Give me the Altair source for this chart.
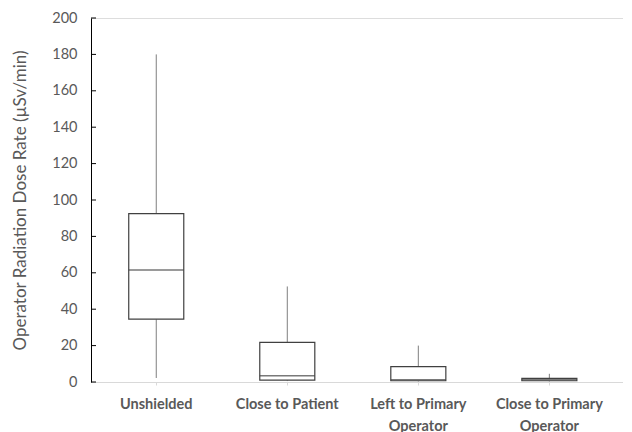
import altair as alt
import pandas as pd

categories = ["Unshielded", "Close to Patient", "Left to Primary Operator", "Close to Primary Operator"]
mins = [2.2, 0.5, 0.3, 0.3]
q1s = [34.5, 1.0, 0.7, 0.7]
medians = [61.5, 3.5, 1.2, 1.2]
q3s = [92.5, 21.8, 8.5, 2.0]
maxs = [180.0, 52.5, 20.0, 4.5]
y_ticks = [0, 20, 40, 60, 80, 100, 120, 140, 160, 180, 200]

df = pd.DataFrame({"cat": categories, "min": mins, "q1": q1s, "med": medians, "q3": q3s, "max": maxs})
ticks_df = pd.DataFrame({"v": y_ticks})

FONT = "Lato"
GRAY = "#595959"

label_expr = ("datum.label == 'Left to Primary Operator' ? ['Left to Primary', 'Operator'] : "
              "datum.label == 'Close to Primary Operator' ? ['Close to Primary', 'Operator'] : datum.label")

x = alt.X("cat:N", sort=categories, title=None,
          scale=alt.Scale(paddingInner=0.58, paddingOuter=0.32, align=0.45),
          axis=alt.Axis(labelAngle=0, labelExpr=label_expr, labelFont=FONT, labelFontSize=14.5,
                        labelFontWeight="bold", labelColor=GRAY, labelPadding=12,
                        domainColor="#d9d9d9", domainWidth=1, tickColor="#d9d9d9", tickSize=3,
                        labelLineHeight=22, labelOverlap=False))
yscale = alt.Scale(domain=[0, 200], nice=False)
yaxis = alt.Axis(values=y_ticks, title="Operator Radiation Dose Rate (µSv/min)", titleFont=FONT,
                 titleFontSize=17, titleFontWeight="normal", titleColor=GRAY, titlePadding=22,
                 labelFont=FONT, labelFontSize=14.5, labelColor=GRAY, labelPadding=14, tickSize=0,
                 domainColor="#000000", domainWidth=1, grid=False, labelOverlap=False,
                 labelBound=False)

base = alt.Chart(df)

whisk_low = base.mark_rule(color="#7f7f7f", strokeWidth=1).encode(
    x=x, y=alt.Y("min:Q", scale=yscale, axis=yaxis), y2="q1:Q")
whisk_high = base.mark_rule(color="#7f7f7f", strokeWidth=1).encode(
    x=x, y=alt.Y("q3:Q", scale=yscale, axis=yaxis), y2="max:Q")
box = base.mark_bar(fill="white", stroke="#404040", strokeWidth=1.2).encode(
    x=x, y=alt.Y("q1:Q", scale=yscale, axis=yaxis), y2="q3:Q")
med = base.mark_tick(color="#404040", thickness=1.5, size=55).encode(
    x=x, y=alt.Y("med:Q", scale=yscale, axis=yaxis))
yticks = alt.Chart(ticks_df).mark_rule(color="#000000", strokeWidth=1).encode(
    y=alt.Y("v:Q", scale=yscale, axis=yaxis), x=alt.value(0), x2=alt.value(5))

chart = alt.layer(whisk_low, whisk_high, box, med, yticks).properties(
    width=532, height=364,
    autosize=alt.AutoSizeParams(type="none"),
    padding={"left": 83, "top": 10, "right": 0, "bottom": 50},
).configure_view(stroke=None).configure_axis(labelOverlap=False).configure(background="white")

chart.save("out.html", embed_options={"renderer": "svg", "actions": False})
